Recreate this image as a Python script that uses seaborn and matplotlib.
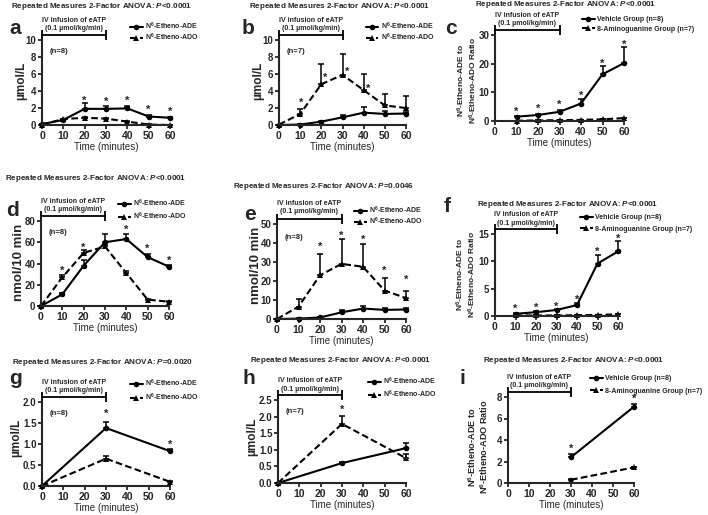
import numpy as np
import pandas as pd
import matplotlib
matplotlib.use('Agg')
import matplotlib.pyplot as plt
import matplotlib.transforms as mtransforms
import seaborn as sns

sns.set_style('ticks')
plt.rcParams['font.family'] = ['Liberation Sans', 'DejaVu Sans']
plt.rcParams['font.weight'] = 'bold'
plt.rcParams['mathtext.fontset'] = 'custom'
plt.rcParams['mathtext.rm'] = 'Liberation Sans:bold'
plt.rcParams['mathtext.it'] = 'Liberation Sans:italic:bold'
plt.rcParams['mathtext.default'] = 'rm'

# ---- data ----
t7 = [0, 10, 20, 30, 40, 50, 60]
t6 = [10, 20, 30, 40, 50, 60]
t3 = [0, 30, 60]
t2 = [30, 60]

a_ade = [0.1, 0.6, 1.9, 1.9, 1.95, 1.0, 0.85]
a_ade_err = [0, 0.1, 0.7, 0.3, 0.3, 0.15, 0.1]
a_ado = [0.05, 0.7, 0.85, 0.75, 0.4, 0.05, 0.0]
a_ado_err = [0, 0.05, 0.1, 0.1, 0.05, 0.02, 0.02]
a_star_x = [20, 30, 40, 50, 60]
a_star_y = [2.9, 2.7, 2.9, 1.75, 1.55]

b_ade = [0, 0.05, 0.4, 0.9, 1.45, 1.3, 1.35]
b_ade_err = [0, 0.02, 0.05, 0.3, 0.7, 0.4, 0.2]
b_ado = [0.05, 1.3, 4.8, 5.9, 4.1, 2.3, 2.0]
b_ado_err = [0, 0.6, 2.4, 2.4, 1.9, 1.3, 1.4]
b_star_x = [10.5, 22, 32, 42]
b_star_y = [2.6, 5.6, 6.2, 4.3]

c_veh = [1.5, 2.1, 3.2, 6.1, 16.3, 20.2]
c_veh_err = [0.3, 0.4, 0.6, 1.5, 3.0, 5.7]
c_ag = [0.1, 0.2, 0.3, 0.4, 0.6, 1.0]
c_ag_err = [0.05, 0.05, 0.05, 0.1, 0.1, 0.2]
c_star_x = [10, 20, 30, 40, 50, 60]
c_star_y = [3.2, 4.1, 5.6, 8.7, 19.9, 26.5]

d_ade = [0, 11, 38, 60, 63, 46, 37]
d_ade_err = [0, 1, 5, 8, 5, 3, 2]
d_ado = [0, 27, 50, 56, 31, 6, 4]
d_ado_err = [0, 2, 3, 2, 2, 1, 1]
d_star_x = [10, 20, 40, 50, 60]
d_star_y = [33, 54.6, 71.5, 53.6, 42.4]

e_ade = [0, 0.2, 0.8, 3.5, 5.5, 4.8, 5.0]
e_ade_err = [0, 0.2, 0.3, 1.2, 1.3, 1.0, 1.0]
e_ado = [0, 6.5, 23, 29, 27.5, 15, 11]
e_ado_err = [0, 4, 11, 13, 12, 6.5, 4]
e_star_x = [20, 30, 40, 50, 60]
e_star_y = [37.9, 44, 41.4, 25.6, 20.4]

f_veh = [0.4, 0.7, 1.1, 2.0, 9.6, 11.8]
f_veh_err = [0.1, 0.15, 0.2, 0.3, 1.6, 1.9]
f_ag = [0.1, 0.1, 0.1, 0.15, 0.2, 0.3]
f_ag_err = [0.02, 0.02, 0.02, 0.03, 0.05, 0.05]
f_star_x = [10, 20, 30, 40, 50, 60]
f_star_y = [1.3, 1.46, 1.65, 2.9, 11.7, 14.1]

g_ade = [0, 1.38, 0.83]
g_ade_err = [0, 0.15, 0.05]
g_ado = [0, 0.65, 0.1]
g_ado_err = [0, 0.07, 0.02]
g_star_x = [30, 60]
g_star_y = [1.72, 0.98]

h_ade = [0, 0.6, 1.05]
h_ade_err = [0, 0.03, 0.15]
h_ado = [0, 1.78, 0.75]
h_ado_err = [0, 0.25, 0.13]
h_star_x = [30, 60]
h_star_y = [2.2, 0.65]

i_veh = [2.4, 7.1]
i_veh_err = [0.3, 0.25]
i_ag = [0.3, 1.45]
i_ag_err = [0.05, 0.05]
i_star_x = [30, 60]
i_star_y = [3.16, 7.8]

ade_lab = r'N$^6$-Etheno-ADE'
ado_lab = r'N$^6$-Etheno-ADO'
veh_lab = 'Vehicle Group (n=8)'
ag_lab = '8-Aminoguanine Group (n=7)'
p_vals = ['<0.0001', '<0.0001', '<0.0001', '<0.0001', '=0.0046', '<0.0001',
          '=0.0020', '<0.0001', '<0.0001']
ratio_lab = 'N$^6$-Etheno-ADE to\nN$^6$-Etheno-ADO Ratio'

W, H = 708, 515
fig = plt.figure(figsize=(W / 100, H / 100), dpi=100)


def fx(x):
    return x / W


def fy(y):
    return 1 - y / H


def draw(box, t1, s1, e1, t2_, s2, e2, labs, ylim, yticks, sx, sy, fmt='{:g}',
         n_text=None, leg=(0, 0, 0)):
    l, r, top, bot = box
    ax = fig.add_axes([fx(l), fy(bot), (r - l) / W, (bot - top) / H])
    sns.lineplot(x=t1, y=s1, ax=ax, color='black', marker='o', markersize=4,
                 markeredgewidth=0, linewidth=1.5, label=labs[0], clip_on=False)
    sns.lineplot(x=t2_, y=s2, ax=ax, color='black', marker='^', markersize=4,
                 markeredgewidth=0, linewidth=1.5, linestyle=(0, (3.2, 1.6)),
                 label=labs[1], clip_on=False)
    ax.errorbar(t1, s1, yerr=[np.zeros(len(e1)), e1], fmt='none', ecolor='black',
                elinewidth=1.1, capsize=2.2, capthick=1.1, clip_on=False)
    ax.errorbar(t2_, s2, yerr=[np.zeros(len(e2)), e2], fmt='none', ecolor='black',
                elinewidth=1.1, capsize=2.2, capthick=1.1, clip_on=False)
    for x, y in zip(sx, sy):
        ax.text(x, y, '*', ha='center', va='center', fontsize=8, clip_on=False)
    ax.set_xlim(0, 60)
    ax.set_ylim(*ylim)
    ax.set_xticks([0, 10, 20, 30, 40, 50, 60])
    ax.set_yticks(yticks)
    ax.set_yticklabels([fmt.format(v) for v in yticks])
    ax.tick_params(direction='out', length=3, width=1.3, pad=1)
    ax.tick_params(axis='x', labelsize=7.5)
    ax.tick_params(axis='y', labelsize=7)
    for s in ['top', 'right']:
        ax.spines[s].set_visible(False)
    for s in ['left', 'bottom']:
        ax.spines[s].set_linewidth(1.5)
    ax.set_xlabel('Time (minutes)', fontsize=7, labelpad=1)
    ax.set_ylabel('')
    # infusion bracket
    tr = mtransforms.blended_transform_factory(ax.transData, ax.transAxes)
    ax.plot([0, 30], [1.055, 1.055], color='black', lw=1.3, transform=tr, clip_on=False)
    ax.plot([0, 30], [1.055, 1.055], ls='none', marker='|', ms=7, mew=1.3,
            color='black', transform=tr, clip_on=False)
    ax.text(15, 1.09, 'IV infusion of eATP\n(0.1 \u00b5mol/kg/min)', transform=tr,
            ha='center', va='bottom', fontsize=5, linespacing=1.25)
    if n_text:
        ax.text(0.06, 0.86, n_text, transform=ax.transAxes, fontsize=5.5,
                ha='left', va='center')
    lx, ly, sp = leg
    ax.legend(loc='upper left', bbox_to_anchor=(fx(lx), fy(ly)),
              bbox_transform=fig.transFigure, frameon=False, fontsize=5,
              handlelength=1.8, handletextpad=0.4, labelspacing=sp,
              borderpad=0, borderaxespad=0)
    return ax


draw((42, 170, 40, 125), t7, a_ade, a_ade_err, t7, a_ado, a_ado_err,
     [ade_lab, ado_lab], (0, 10), [0, 2, 4, 6, 8, 10], a_star_x, a_star_y,
     n_text='(n=8)', leg=(130, 21, -0.1))
draw((279, 406, 40, 125), t7, b_ade, b_ade_err, t7, b_ado, b_ado_err,
     [ade_lab, ado_lab], (0, 10), [0, 2, 4, 6, 8, 10], b_star_x, b_star_y,
     n_text='(n=7)', leg=(366, 21, -0.1))
draw((495, 624, 35, 121), t6, c_veh, c_veh_err, t6, c_ag, c_ag_err,
     [veh_lab, ag_lab], (0, 30), [0, 10, 20, 30], c_star_x, c_star_y,
     leg=(582, 16, 0.4))
draw((41, 169, 221, 306), t7, d_ade, d_ade_err, t7, d_ado, d_ado_err,
     [ade_lab, ado_lab], (0, 80), [0, 20, 40, 60, 80], d_star_x, d_star_y,
     n_text='(n=8)', leg=(118, 198, 0.15))
draw((277, 406, 224, 319), t7, e_ade, e_ade_err, t7, e_ado, e_ado_err,
     [ade_lab, ado_lab], (0, 50), [0, 10, 20, 30, 40, 50], e_star_x, e_star_y,
     n_text='(n=8)', leg=(354, 205, -0.05))
draw((495, 618, 234, 316), t6, f_veh, f_veh_err, t6, f_ag, f_ag_err,
     [veh_lab, ag_lab], (0, 15), [0, 5, 10, 15], f_star_x, f_star_y,
     leg=(580, 214, 0.7))
draw((42, 170, 402, 486), t3, g_ade, g_ade_err, t3, g_ado, g_ado_err,
     [ade_lab, ado_lab], (0, 2), [0, 0.5, 1.0, 1.5, 2.0], g_star_x, g_star_y,
     fmt='{:.1f}', n_text='(n=8)', leg=(130, 378, 0.3))
draw((278, 406, 400, 483), t3, h_ade, h_ade_err, t3, h_ado, h_ado_err,
     [ade_lab, ado_lab], (0, 2.5), [0, 0.5, 1.0, 1.5, 2.0, 2.5], h_star_x, h_star_y,
     fmt='{:.1f}', n_text='(n=7)', leg=(368, 376, 0.15))
draw((508, 634, 397, 483), t2, i_veh, i_veh_err, t2, i_ag, i_ag_err,
     [veh_lab, ag_lab], (0, 8), [0, 2, 4, 6, 8], i_star_x, i_star_y,
     leg=(590, 375, 0.85))

# titles
title_pos = [(102, 6), (340, 6), (566, 5), (96, 179), (324, 187), (568, 204),
             (103, 362), (341, 360), (574, 361)]
for (cx, cy), p in zip(title_pos, p_vals):
    fig.text(fx(cx), fy(cy), r'Repeated Measures 2-Factor ANOVA: $\mathit{P}$' + p,
             ha='center', va='center', fontsize=5.8)

# panel letters
letters = ['a', 'b', 'c', 'd', 'e', 'f', 'g', 'h', 'i']
letter_pos = [(9, 28), (242, 28), (445, 28), (6, 210), (244, 214), (444, 207),
              (9, 378), (242, 379), (459, 378)]
for s, (x, y) in zip(letters, letter_pos):
    fig.text(fx(x), fy(y), s, fontsize=15, ha='left', va='center')

# y labels
for (x, y) in [(21, 81), (258, 81), (16, 438), (252, 437)]:
    fig.text(fx(x), fy(y), '\u00b5mol/L', rotation=90, ha='center', va='center', fontsize=8.5)
for (x, y) in [(19, 262), (256, 265)]:
    fig.text(fx(x), fy(y), 'nmol/10 min', rotation=90, ha='center', va='center', fontsize=9.5)
for (x, y, fs) in [(467, 80, 6), (466, 274, 6), (478, 447, 6.6)]:
    fig.text(fx(x), fy(y), ratio_lab, rotation=90, ha='center', va='center',
             fontsize=fs, linespacing=1.1)

fig.savefig('out.png', dpi=100)
